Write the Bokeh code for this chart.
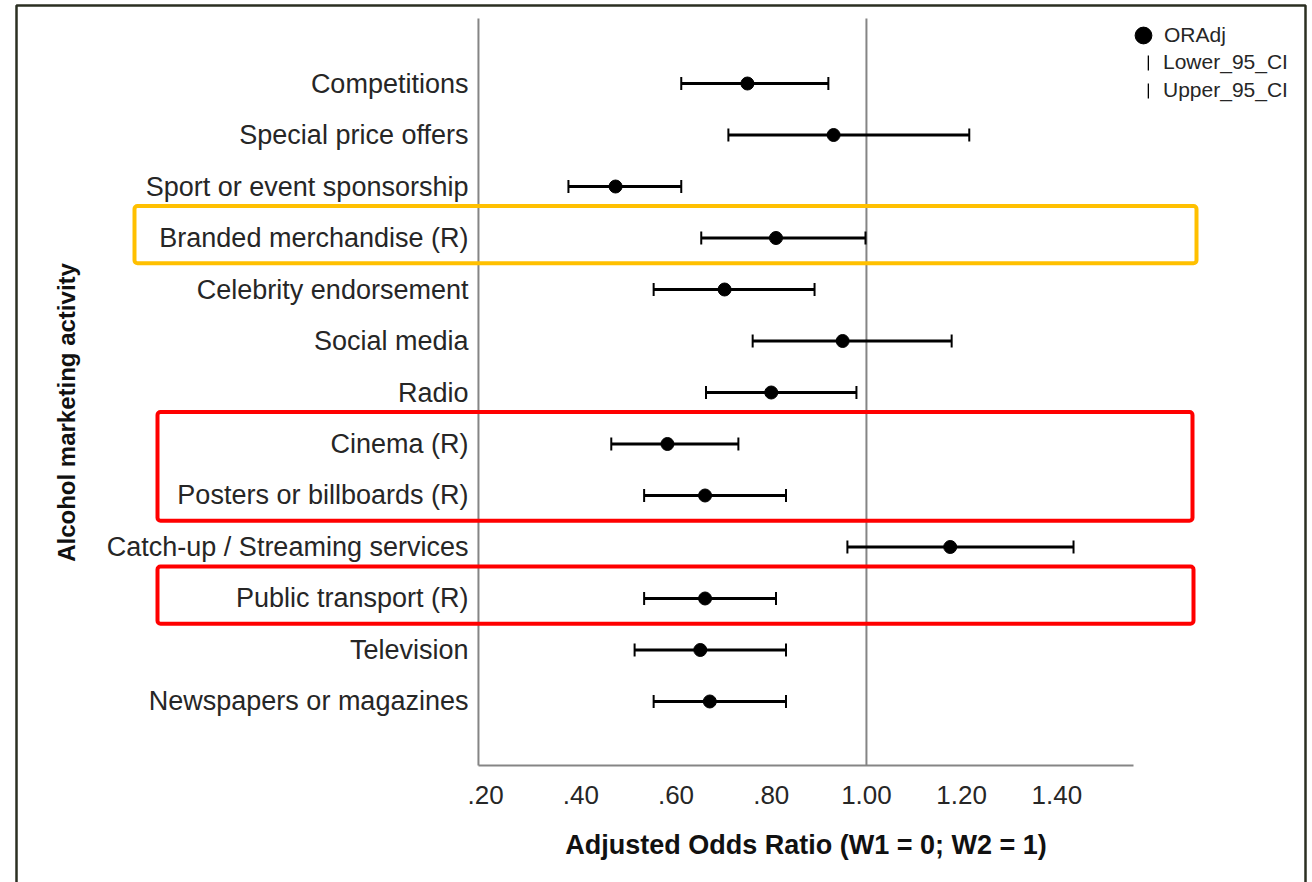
from bokeh.plotting import figure
from bokeh.models import (ColumnDataSource, Range1d, FixedTicker, CustomJSTickFormatter,
                          BoxAnnotation, Legend, LegendItem)
from bokeh.embed import file_html
from bokeh.resources import INLINE

# ---------------- data ----------------
categories = [
    "Competitions",
    "Special price offers",
    "Sport or event sponsorship",
    "Branded merchandise (R)",
    "Celebrity endorsement",
    "Social media",
    "Radio",
    "Cinema (R)",
    "Posters or billboards (R)",
    "Catch-up / Streaming services",
    "Public transport (R)",
    "Television",
    "Newspapers or magazines",
]
or_adj = [0.750, 0.931, 0.473, 0.810, 0.702, 0.950, 0.800, 0.582, 0.661, 1.176, 0.661, 0.651, 0.671]
lower_ci = [0.611, 0.710, 0.374, 0.653, 0.553, 0.761, 0.663, 0.464, 0.533, 0.960, 0.533, 0.513, 0.553]
upper_ci = [0.920, 1.216, 0.611, 0.998, 0.891, 1.179, 0.979, 0.731, 0.831, 1.435, 0.810, 0.831, 0.831]

x_ticks = [0.2, 0.4, 0.6, 0.8, 1.0, 1.2, 1.4]
x_tick_labels = [".20", ".40", ".60", ".80", "1.00", "1.20", "1.40"]
reference_value = 1.0

highlight_groups = [
    ["Branded merchandise (R)"],
    ["Cinema (R)", "Posters or billboards (R)"],
    ["Public transport (R)"],
]
highlight_colors = ["#FFC000", "#FF0000", "#FF0000"]

x_title = "Adjusted Odds Ratio (W1 = 0; W2 = 1)"
y_title = "Alcohol marketing activity"

# ---------------- layout constants ----------------
FONT = "Liberation Sans, Arial, sans-serif"
W, H = 1312, 882
X_VIEW = (-0.819, 1.937)          # visible x span (whole canvas)
Y_VIEW = (15.515, -1.612)         # visible row span, first category on top
PLOT_X = (0.185, 1.561)           # extent of the chart area on x
PLOT_Y = (-1.262, 13.243)         # extent of the chart area on rows (top, bottom)
AXIS_GRAY = "#858585"

n = len(categories)
row = list(range(n))
src = ColumnDataSource(dict(cat=categories, row=row, orr=or_adj, lo=lower_ci, hi=upper_ci))

p = figure(
    width=W, height=H,
    x_range=Range1d(*X_VIEW), y_range=Range1d(*Y_VIEW),
    output_backend="svg", toolbar_location=None,
    min_border_left=0, min_border_right=0, min_border_top=0, min_border_bottom=0,
)
p.outline_line_color = None
p.background_fill_color = "white"
p.border_fill_color = "white"
p.xgrid.visible = False
p.ygrid.visible = False

for ax in (p.xaxis[0], p.yaxis[0]):
    ax.major_tick_line_color = None
    ax.minor_tick_line_color = None
    ax.major_tick_out = 0
    ax.major_tick_in = 0
    ax.major_label_text_font = FONT
    ax.major_label_text_color = "#262626"
    ax.axis_label_text_font = FONT
    ax.axis_label_text_font_style = "bold"
    ax.axis_label_text_color = "#111111"

# x axis sits at the bottom of the chart area
xa = p.xaxis[0]
xa.fixed_location = PLOT_Y[1]
xa.bounds = PLOT_X
xa.axis_line_color = AXIS_GRAY
xa.axis_line_width = 2
xa.ticker = FixedTicker(ticks=x_ticks)
xa.formatter = CustomJSTickFormatter(
    args=dict(tick_vals=x_ticks, tick_texts=x_tick_labels),
    code="""
        for (let i = 0; i < tick_vals.length; i++) {
            if (Math.abs(tick_vals[i] - tick) < 1e-9) return tick_texts[i];
        }
        return "";
    """)
xa.major_label_text_font_size = "26px"
xa.major_label_standoff = 21
xa.axis_label = x_title
xa.axis_label_text_font_size = "27px"
xa.axis_label_standoff = 22

# y axis (category names) sits at the left edge of the chart area
ya = p.yaxis[0]
ya.fixed_location = PLOT_X[0]
ya.bounds = (-0.466, PLOT_Y[1])
ya.axis_line_color = None
ya.ticker = FixedTicker(ticks=row)
ya.formatter = CustomJSTickFormatter(
    args=dict(names=categories),
    code="""
        const i = Math.round(tick);
        return (i >= 0 && i < names.length) ? names[i] : "";
    """)
ya.major_label_text_font_size = "27px"
ya.major_label_standoff = 10
ya.axis_label = y_title
ya.axis_label_text_font_size = "24px"
ya.axis_label_standoff = 24

# left axis line and the reference line at 1.00
p.segment(x0=[PLOT_X[0], reference_value], y0=[PLOT_Y[0]] * 2,
          x1=[PLOT_X[0], reference_value], y1=[PLOT_Y[1]] * 2,
          line_color=AXIS_GRAY, line_width=2)

# error bars and points
p.segment(x0="lo", y0="row", x1="hi", y1="row", source=src, line_color="black", line_width=3)
r_lo = p.rect(x="lo", y="row", width=2, height=13, width_units="screen", height_units="screen",
              source=src, fill_color="black", line_color=None)
r_hi = p.rect(x="hi", y="row", width=2, height=13, width_units="screen", height_units="screen",
              source=src, fill_color="black", line_color=None)
r_pt = p.scatter(x="orr", y="row", source=src, marker="circle", size=13,
                 fill_color="black", line_color="black")

# legends (top right, beside the chart area)
legend_common = dict(
    orientation="vertical", padding=0, margin=0,
    label_text_font=FONT, label_text_font_size="21px", label_text_color="#262626",
    background_fill_alpha=0, border_line_alpha=0,
)
legend_pt = Legend(
    items=[LegendItem(label="ORAdj", renderers=[r_pt])],
    location=(1122, 826),
    glyph_width=42, glyph_height=42, label_height=20, label_standoff=0,
    **legend_common,
)
legend_ci = Legend(
    items=[LegendItem(label="Lower_95_CI", renderers=[r_lo]),
           LegendItem(label="Upper_95_CI", renderers=[r_hi])],
    location=(1147, 780),
    glyph_width=2, glyph_height=19, label_height=19, label_standoff=14, spacing=4,
    **legend_common,
)
p.add_layout(legend_pt)
p.add_layout(legend_ci)

# highlight boxes around groups of categories
box_x = [(134, 1196), (157, 1192), (157, 1193)]
for grp, col, (bx0, bx1) in zip(highlight_groups, highlight_colors, box_x):
    idx = [categories.index(c) for c in grp]
    p.add_layout(BoxAnnotation(
        left=bx0, right=bx1, left_units="canvas", right_units="canvas",
        top=min(idx) - 0.62, bottom=max(idx) + 0.49,
        fill_color=None, fill_alpha=0, line_color=col, line_alpha=1.0,
        line_width=4, border_radius=3,
    ))

# outer frame of the picture
p.add_layout(BoxAnnotation(
    left=16, right=1305, top=5, bottom=H + 20,
    left_units="canvas", right_units="canvas", top_units="canvas", bottom_units="canvas",
    fill_color=None, fill_alpha=0, line_color="#2b2f22", line_alpha=1.0, line_width=2.5,
))

open("out.html", "w").write(file_html(p, INLINE))
